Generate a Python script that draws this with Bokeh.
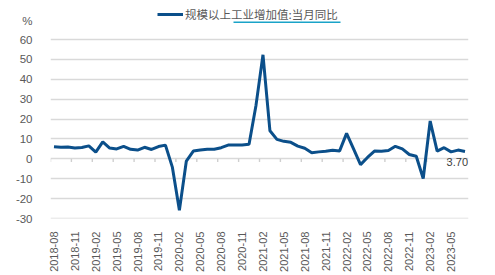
from bokeh.plotting import figure
from bokeh.models import (FixedTicker, Range1d, Legend, LegendItem, Label,
                          BoxAnnotation, ColumnDataSource)
from bokeh.embed import file_html
from bokeh.resources import INLINE
import math

months = ["2018-08", "2018-09", "2018-10", "2018-11", "2018-12",
          "2019-01", "2019-02", "2019-03", "2019-04", "2019-05", "2019-06",
          "2019-07", "2019-08", "2019-09", "2019-10", "2019-11", "2019-12",
          "2020-01", "2020-02", "2020-03", "2020-04", "2020-05", "2020-06",
          "2020-07", "2020-08", "2020-09", "2020-10", "2020-11", "2020-12",
          "2021-01", "2021-02", "2021-03", "2021-04", "2021-05", "2021-06",
          "2021-07", "2021-08", "2021-09", "2021-10", "2021-11", "2021-12",
          "2022-01", "2022-02", "2022-03", "2022-04", "2022-05", "2022-06",
          "2022-07", "2022-08", "2022-09", "2022-10", "2022-11", "2022-12",
          "2023-01", "2023-02", "2023-03", "2023-04", "2023-05", "2023-06",
          "2023-07"]
ip_yoy = [6.1, 5.8, 5.9, 5.4, 5.7,
          6.5, 3.4, 8.5, 5.4, 5.0, 6.3, 4.8, 4.4, 5.8, 4.7, 6.2, 6.9,
          -4.3, -25.9, -1.1, 3.9, 4.4, 4.8, 4.8, 5.6, 6.9, 6.9, 7.0, 7.3,
          27.0, 52.3, 14.1, 9.8, 8.8, 8.3, 6.4, 5.3, 3.1, 3.5, 3.8, 4.3,
          4.0, 12.8, 5.0, -2.9, 0.7, 3.9, 3.8, 4.2, 6.3, 5.0, 2.2, 1.3,
          -9.9, 19.0, 3.9, 5.6, 3.5, 4.4, 3.7]
y_ticks = [-30, -20, -10, 0, 10, 20, 30, 40, 50, 60]
unit_text = "%"
series_name = "规模以上工业增加值:当月同比"

LINE = "#0b4f8a"
GRID = "#d9d9d9"
TXT = "#595959"

n = len(months)
xc = [i + 0.5 for i in range(n)]
label_idx = list(range(0, n - 1, 3))
unit_pos = 69.3

p = figure(width=495, height=275, output_backend="svg", toolbar_location=None,
           x_range=Range1d(0, n), y_range=Range1d(y_ticks[0], 76.6),
           min_border_left=50, min_border_right=27, min_border_top=6,
           min_border_bottom=57)
p.outline_line_color = None

# y axis (unit shown as an extra label at the top)
p.yaxis.ticker = FixedTicker(ticks=y_ticks + [unit_pos])
overrides = {float(t): str(t) for t in y_ticks}
overrides[unit_pos] = unit_text
p.yaxis.major_label_overrides = overrides
p.yaxis.axis_line_color = None
p.yaxis.major_tick_line_color = None
p.yaxis.minor_tick_line_color = None
p.yaxis.major_label_text_font = "Liberation Sans"
p.yaxis.major_label_text_font_size = "11.5px"
p.yaxis.major_label_text_color = TXT
p.yaxis.major_label_standoff = 12

# x axis
p.xaxis.ticker = FixedTicker(ticks=[xc[i] for i in label_idx])
p.xaxis.major_label_overrides = {xc[i]: months[i] for i in label_idx}
p.xaxis.major_label_orientation = math.pi / 2
p.xaxis.axis_line_color = None
p.xaxis.major_tick_line_color = None
p.xaxis.minor_tick_line_color = None
p.xaxis.major_label_text_font = "Liberation Sans"
p.xaxis.major_label_text_font_size = "11px"
p.xaxis.major_label_text_color = TXT
p.xaxis.major_label_standoff = 7

p.xgrid.grid_line_color = None
p.ygrid.grid_line_color = None

# horizontal grid lines at the y ticks
p.hspan(y=y_ticks, line_color=GRID, line_width=1.6)

# tick marks on zero line at category boundaries
bounds = [float(i) for i in label_idx]
tick_src = ColumnDataSource(dict(x=bounds, top=[0.0] * len(bounds),
                                 bottom=[-1.6] * len(bounds)))
p.vbar(x="x", top="top", bottom="bottom", width=0.2, source=tick_src,
       fill_color="#cfcfcf", line_color=None)

src = ColumnDataSource(dict(x=xc, y=ip_yoy))
r = p.line("x", "y", source=src, line_color=LINE, line_width=3)

# last value label
p.add_layout(Label(x=xc[-1], y=ip_yoy[-1], text=f"{ip_yoy[-1]:.2f}",
                   x_offset=3, y_offset=-15, text_align="right",
                   text_font="Liberation Sans", text_font_size="11px",
                   text_color="#404040"))

legend = Legend(items=[LegendItem(label=series_name, renderers=[r])],
                location=(107, 196.5), orientation="horizontal",
                border_line_color=None, background_fill_alpha=0,
                label_text_font="Noto Sans CJK SC", label_text_font_size="11.5px",
                label_text_color=TXT, glyph_width=26, glyph_height=12,
                label_standoff=2, padding=0, margin=0, spacing=0,
                label_height=12)
p.add_layout(legend)

# cyan underline decoration under part of legend text
p.add_layout(BoxAnnotation(left=233, right=340, top=21, bottom=22.5,
                           left_units="canvas", right_units="canvas",
                           top_units="canvas", bottom_units="canvas",
                           fill_color="#1aa3c8", fill_alpha=1, line_color=None))

open("out.html", "w").write(file_html(p, INLINE))
